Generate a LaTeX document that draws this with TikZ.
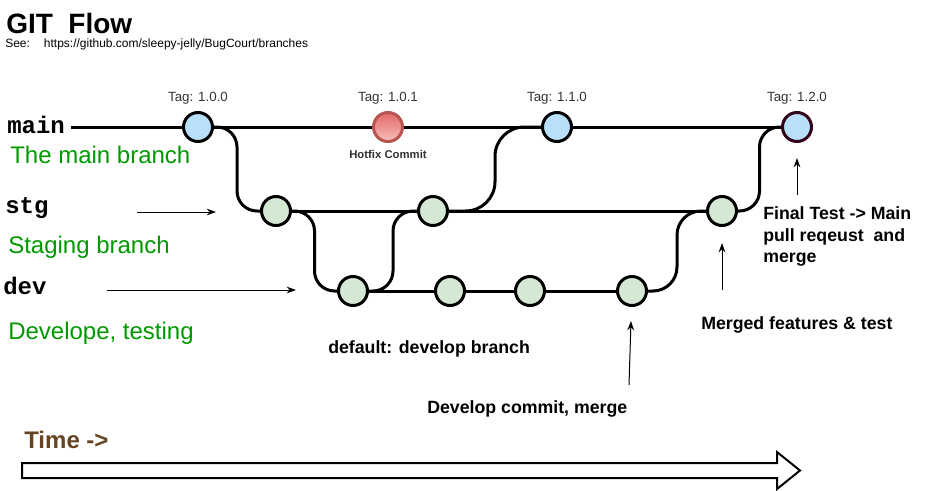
\documentclass[tikz,border=0pt]{standalone}
\usepackage{fontspec}
\setmainfont{Liberation Sans}
\setmonofont{Liberation Mono}
\usetikzlibrary{calc,backgrounds,arrows.meta}
\definecolor{tagblue}{RGB}{185,224,250}
\definecolor{workgreen}{RGB}{213,232,212}
\definecolor{hotborder}{RGB}{184,84,80}
\definecolor{hottop}{RGB}{226,104,102}
\definecolor{hotbottom}{RGB}{246,190,188}
\definecolor{labelgreen}{RGB}{0,153,0}
\definecolor{timebrown}{RGB}{102,68,34}
\definecolor{lastborder}{RGB}{51,0,26}
\tikzset{
  commit/.style={circle,draw=black,line width=2.25pt,minimum size=21.75pt,inner sep=0pt},
  release/.style={commit,fill=tagblue},
  work/.style={commit,fill=workgreen},
  branch/.style={line width=2.25pt},
  merge/.style={branch,rounded corners=15pt},
  txt/.style={anchor=base west,inner sep=0pt},
  tag/.style={anchor=base,inner sep=0pt,text=black!80,font=\fontsize{10}{12}\selectfont},
  brname/.style={txt,font=\fontsize{18}{20}\selectfont\ttfamily\bfseries},
  brnote/.style={txt,text=labelgreen,font=\fontsize{18}{20}\selectfont},
  note/.style={txt,font=\fontsize{13.3}{16.2}\selectfont\bfseries},
  pointer/.style={-{Stealth[length=7pt,width=5pt]},line width=0.75pt}
}

\begin{document}
\begin{tikzpicture}[x=0.75pt,y=-0.75pt]
\useasboundingbox (0,0) rectangle (929,490);

% title
\node[txt,font=\fontsize{21}{24}\selectfont\bfseries] (title) at (6,33) {GIT\ \ Flow};
\node[txt,font=\fontsize{9}{11}\selectfont] (see) at (5,47) {See:\hspace{10.5pt}https://github.com/sleepy-jelly/BugCourt/branches};

% branch names
\node[brname] (lmain) at (7,133) {main};
\node[brnote] (nmain) at (10,163) {The main branch};
\node[brname] (lstg) at (5,213) {stg};
\node[brnote] (nstg) at (8,253) {Staging branch};
\node[brname] (ldev) at (3,294) {dev};
\node[brnote] (ndev) at (8,339) {Develope, testing};

% commits
\node[release] (m1) at (198,127) {};
\node[commit,draw=hotborder,top color=hottop,bottom color=hotbottom] (hf) at (388,127) {};
\node[release] (m2) at (557,127) {};
\node[release,draw=lastborder] (m3) at (797,127) {};
\node[work] (s1) at (276,211) {};
\node[work] (s2) at (433,211) {};
\node[work] (s3) at (722,211) {};
\foreach \i/\x in {1/353,2/450,3/530,4/632}
  \node[work] (d\i) at (\x,291) {};

% tags
\node[tag] (t1) at (198,101) {Tag: 1.0.0};
\node[tag] (t2) at (388,101) {Tag: 1.0.1};
\node[tag] (t3) at (557,101) {Tag: 1.1.0};
\node[tag] (t4) at (797,101) {Tag: 1.2.0};
\node[tag,font=\fontsize{8.5}{10}\selectfont\bfseries] (hfnote) at (388,158) {Hotfix Commit};

% branch lines
\begin{scope}[on background layer]
\coordinate (mstart) at (71,127);
\draw[branch] (mstart) -- (m1) -- (hf) -- (m2) -- (m3);
\draw[branch] (s1) -- (s2) -- (s3);
\draw[branch] (d1) -- (d2) -- (d3) -- (d4);
\foreach \a/\b/\r in {m1/s1/15pt,s1/d1/15pt,d1/s2/15pt,s2/m2/22pt,d4/s3/18pt,s3/m3/15pt}{
  \coordinate (mid) at ($(\a.east)!.5!(\b.west)$);
  \draw[merge,rounded corners=\r] (\a.east) -- (\a.east -| mid) -- (\b.west -| mid) -- (\b.west);
}
\end{scope}

% pointers
\coordinate (stgfrom) at (137,212);
\coordinate (stgto) at (216,212);
\coordinate (devfrom) at (107,290);
\coordinate (devto) at (296,290);
\coordinate (finfrom) at (797,195);
\coordinate (finto) at (797,158);
\coordinate (mrgfrom) at (722,290);
\coordinate (mrgto) at (722,243);
\coordinate (dcfrom) at (629,385);
\coordinate (dcto) at (631,321);
\draw[pointer] (stgfrom) -- (stgto);
\draw[pointer] (devfrom) -- (devto);
\draw[pointer] (finfrom) -- (finto);
\draw[pointer] (mrgfrom) -- (mrgto);
\draw[pointer] (dcfrom) -- (dcto);

% notes
\node[note,align=left,anchor=north west] (final) at (763,206.5) {Final Test -> Main\\pull reqeust\ \ and\\merge};
\node[note] (merged) at (701,329) {Merged features \& test};
\node[note] (default) at (328,353) {default: develop branch};
\node[note] (devcommit) at (427,413) {Develop commit, merge};

% time
\node[txt,text=timebrown,font=\fontsize{18}{20}\selectfont\bfseries] (time) at (24,448) {Time ->};
\draw[line width=1.5pt,line join=miter,fill=white] (22,463) -- (777,463) -- (777,452) -- (800,470.5)
  -- (777,489) -- (777,478) -- (22,478) -- cycle;
\end{tikzpicture}
\end{document}
